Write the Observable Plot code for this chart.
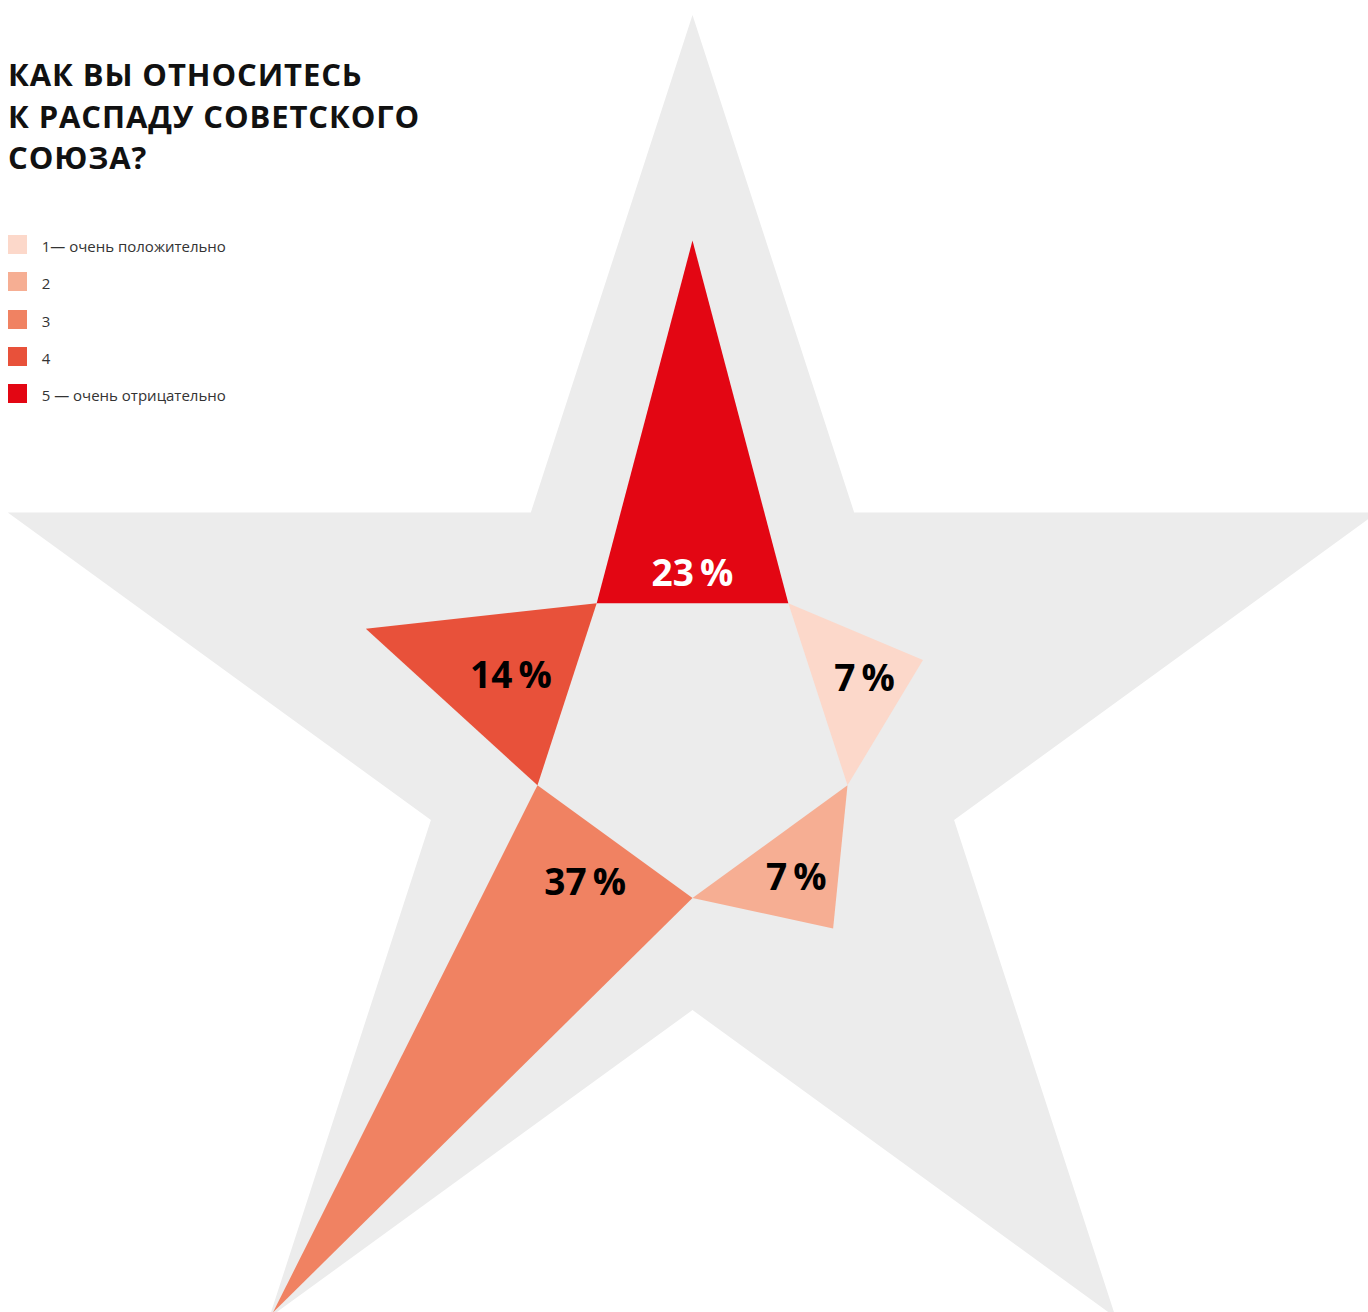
<!DOCTYPE html>
<html><head><meta charset="utf-8">
<script src="https://cdn.jsdelivr.net/npm/d3@7"></script>
<script src="https://cdn.jsdelivr.net/npm/@observablehq/plot@0.6"></script>
<style>
body{margin:0;background:#fff;}
#wrap{position:relative;width:1368px;height:1312px;overflow:hidden;font-family:"Open Sans",sans-serif;}
#chart{position:absolute;left:0;top:0;}
#title{position:absolute;left:8px;top:54px;font-weight:700;font-size:31px;line-height:41.7px;letter-spacing:0.9px;color:#111;margin:0;}
.row{position:absolute;left:8px;height:19px;display:flex;align-items:center;font-size:15px;color:#333;white-space:nowrap;}
.sw{width:19px;height:19px;margin-right:14.7px;flex:none;}
</style></head><body>
<div id="wrap"><div id="chart"></div><h1 id="title">КАК ВЫ ОТНОСИТЕСЬ<br>К РАСПАДУ СОВЕТСКОГО<br>СОЮЗА?</h1><div id="legend"></div></div>
<script>
// Data
const categories = ["1", "2", "3", "4", "5"];
const legendLabels = ["1— очень положительно", "2", "3", "4", "5 — очень отрицательно"];
const shares = [7.1, 6.9, 37.4, 13.6, 23.3];
const colors = ["#fcd8ca", "#f6ae93", "#f08262", "#e8513a", "#e30613"];

// Geometry
const W = 1368, H = 1312;
const cx = 692, cy = 734.5, Ro = 720, Ri = Ro * 0.382, R = 163, k = 15.56;
const fontSize = 37, labelGap = 16;
const rad = a => a * Math.PI / 180;
const pt = (r, a) => ({x: cx + r * Math.cos(rad(a)), y: cy + r * Math.sin(rad(a))});
const apothem = R * Math.cos(rad(36));
const armAngle = i => -90 + 72 * ((i + 1) % 5);

const ctx = document.createElement("canvas").getContext("2d");
ctx.font = `700 ${fontSize}px "Open Sans"`;

const star = d3.range(10).map(i => pt(i % 2 ? Ri : Ro, -90 + 36 * i));
const arms = categories.flatMap((c, i) => {
  const th = armAngle(i);
  return [pt(R, th - 36), pt(apothem + shares[i] * k, th), pt(R, th + 36)].map(p => ({...p, category: c}));
});
const labels = categories.map((c, i) => {
  const th = armAngle(i);
  const text = Math.round(shares[i]) + "\u2009%";
  const halfW = ctx.measureText(text).width / 2, halfH = fontSize * 0.36;
  // place the label box just clear of the pentagon edge, along the arm axis
  const support = halfW * Math.abs(Math.cos(rad(th))) + halfH * Math.abs(Math.sin(rad(th)));
  return {...pt(apothem + labelGap + support, th), category: c, text};
});

const textOpts = {x: "x", y: "y", text: "text", fontSize, fontWeight: 700, fontFamily: "Open Sans", textAnchor: "middle", lineAnchor: "middle"};

const chart = Plot.plot({
  width: W, height: H, margin: 0,
  x: {domain: [0, W], range: [0, W], axis: null},
  y: {domain: [0, H], range: [0, H], axis: null},
  color: {domain: categories, range: colors},
  marks: [
    Plot.line(star, {x: "x", y: "y", fill: "#ececec", stroke: "none", curve: "linear-closed"}),
    Plot.line(arms, {x: "x", y: "y", z: "category", fill: "category", stroke: "none", curve: "linear-closed"}),
    Plot.text(labels.filter(d => d.category !== "5"), {...textOpts, fill: "#000"}),
    Plot.text(labels.filter(d => d.category === "5"), {...textOpts, fill: "#fff"})
  ]
});
document.getElementById("chart").appendChild(chart);

const legend = document.getElementById("legend");
categories.forEach((c, i) => {
  const row = document.createElement("div");
  row.className = "row";
  row.style.top = (235 + i * 37.3) + "px";
  const sw = document.createElement("div");
  sw.className = "sw";
  sw.style.background = colors[i];
  const t = document.createElement("span");
  t.textContent = legendLabels[i];
  t.style.paddingTop = "3px";
  row.appendChild(sw); row.appendChild(t);
  legend.appendChild(row);
});
</script>
</body></html>
